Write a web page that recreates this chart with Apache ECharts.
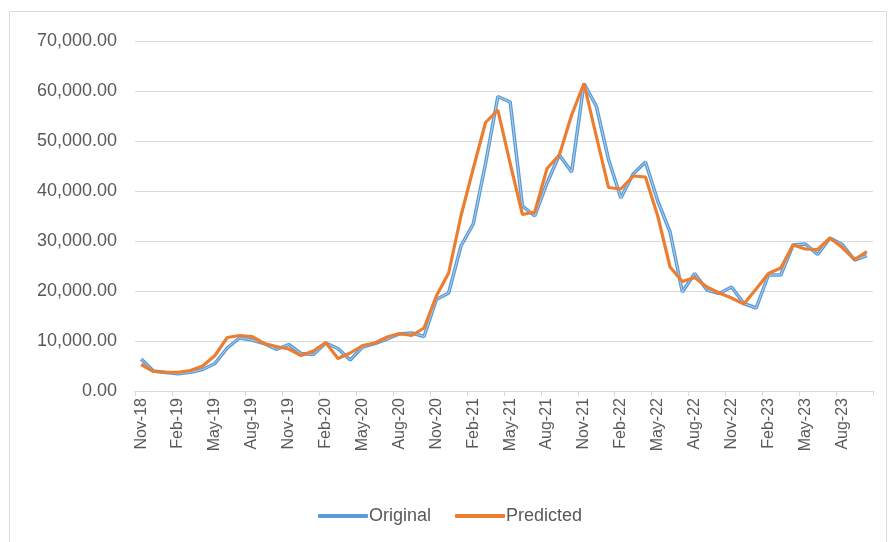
<!DOCTYPE html>
<html>
<head>
<meta charset="utf-8">
<script src="https://cdn.jsdelivr.net/npm/echarts@6/dist/echarts.min.js"></script>
<style>
  html, body { margin: 0; padding: 0; background: #ffffff; }
  #frame { position: absolute; left: 9px; top: 11px; width: 878px; height: 540px; border: 1px solid #d9d9d9; box-sizing: border-box; }
  #chart { position: absolute; left: 0; top: 0; width: 888px; height: 542px; }
</style>
</head>
<body>
<div id="frame"></div>
<div id="chart"></div>
<script>
// monthly categories Nov-18 .. Oct-23
var months = ['Nov-18','Dec-18','Jan-19','Feb-19','Mar-19','Apr-19','May-19','Jun-19','Jul-19','Aug-19',
  'Sep-19','Oct-19','Nov-19','Dec-19','Jan-20','Feb-20','Mar-20','Apr-20','May-20','Jun-20',
  'Jul-20','Aug-20','Sep-20','Oct-20','Nov-20','Dec-20','Jan-21','Feb-21','Mar-21','Apr-21',
  'May-21','Jun-21','Jul-21','Aug-21','Sep-21','Oct-21','Nov-21','Dec-21','Jan-22','Feb-22',
  'Mar-22','Apr-22','May-22','Jun-22','Jul-22','Aug-22','Sep-22','Oct-22','Nov-22','Dec-22',
  'Jan-23','Feb-23','Mar-23','Apr-23','May-23','Jun-23','Jul-23','Aug-23','Sep-23','Oct-23'];

var original = [6400, 4000, 3700, 3450, 3750, 4300, 5500, 8600, 10600, 10200,
  9500, 8300, 9300, 7500, 7300, 9600, 8500, 6200, 8800, 9500,
  10400, 11400, 11600, 10900, 18300, 19600, 29000, 33400, 45500, 58900,
  57800, 37000, 35000, 41600, 47200, 43800, 61500, 57000, 46300, 38600,
  43400, 45800, 38000, 31800, 19800, 23500, 20200, 19500, 20800, 17500,
  16600, 23200, 23200, 29200, 29400, 27300, 30600, 29300, 26200, 27100];

var predicted = [5300, 3900, 3750, 3750, 4100, 5000, 7100, 10700, 11100, 10900,
  9500, 8900, 8400, 7100, 8000, 9700, 6500, 7600, 9100, 9600,
  10800, 11500, 11100, 12600, 19000, 23600, 35000, 44500, 53700, 56200,
  45500, 35300, 35800, 44500, 47200, 55200, 61500, 51000, 40700, 40400,
  43000, 42800, 35000, 24800, 21900, 22700, 20800, 19600, 18600, 17400,
  20400, 23500, 24600, 29200, 28400, 28300, 30600, 28700, 26300, 27900];

var yTicks = { min: 0, max: 70000, step: 10000 };

var chart = echarts.init(document.getElementById('chart'), null, { renderer: 'canvas' });

var option = {
  backgroundColor: 'transparent',
  animation: false,
  textStyle: { fontFamily: 'Liberation Sans', color: '#595959' },
  grid: { left: 135, right: 15, top: 41, bottom: 151, containLabel: false },
  legend: {
    data: ['Original', 'Predicted'],
    left: 313,
    top: 502,
    icon: 'roundRect',
    itemWidth: 50,
    itemHeight: 4,
    itemGap: 24,
    textStyle: { fontSize: 18, color: '#595959', fontFamily: 'Liberation Sans', padding: [0, 0, 0, -4] }
  },
  xAxis: {
    type: 'category',
    data: months,
    boundaryGap: true,
    axisLine: { lineStyle: { color: '#d9d9d9', width: 1 } },
    axisTick: { show: true, interval: 2, length: 5, lineStyle: { color: '#d9d9d9' } },
    axisLabel: {
      interval: 2,
      rotate: 90,
      fontSize: 16,
      color: '#595959',
      margin: 7
    },
    splitLine: { show: false }
  },
  yAxis: {
    type: 'value',
    min: yTicks.min,
    max: yTicks.max,
    interval: yTicks.step,
    axisLine: { show: false },
    axisTick: { show: false },
    axisLabel: {
      fontSize: 18,
      color: '#595959',
      margin: 18,
      formatter: function (v) {
        return v.toLocaleString('en-US', { minimumFractionDigits: 2, maximumFractionDigits: 2 });
      }
    },
    splitLine: { lineStyle: { color: '#d9d9d9', width: 1 } }
  },
  series: [
    {
      name: 'Original',
      type: 'line',
      data: original,
      showSymbol: false,
      symbol: 'none',
      color: '#5B9BD5',
      lineStyle: { color: '#5B9BD5', width: 3.5 },
      z: 2
    },
    {
      name: 'Original highlight',
      type: 'line',
      data: original,
      showSymbol: false,
      symbol: 'none',
      silent: true,
      lineStyle: { color: '#b3d0ec', width: 1 },
      z: 3
    },
    {
      name: 'Predicted',
      type: 'line',
      data: predicted,
      showSymbol: false,
      symbol: 'none',
      color: '#ED7D31',
      lineStyle: { color: '#ED7D31', width: 3.2 },
      z: 4
    }
  ]
};

chart.setOption(option);
</script>
</body>
</html>
